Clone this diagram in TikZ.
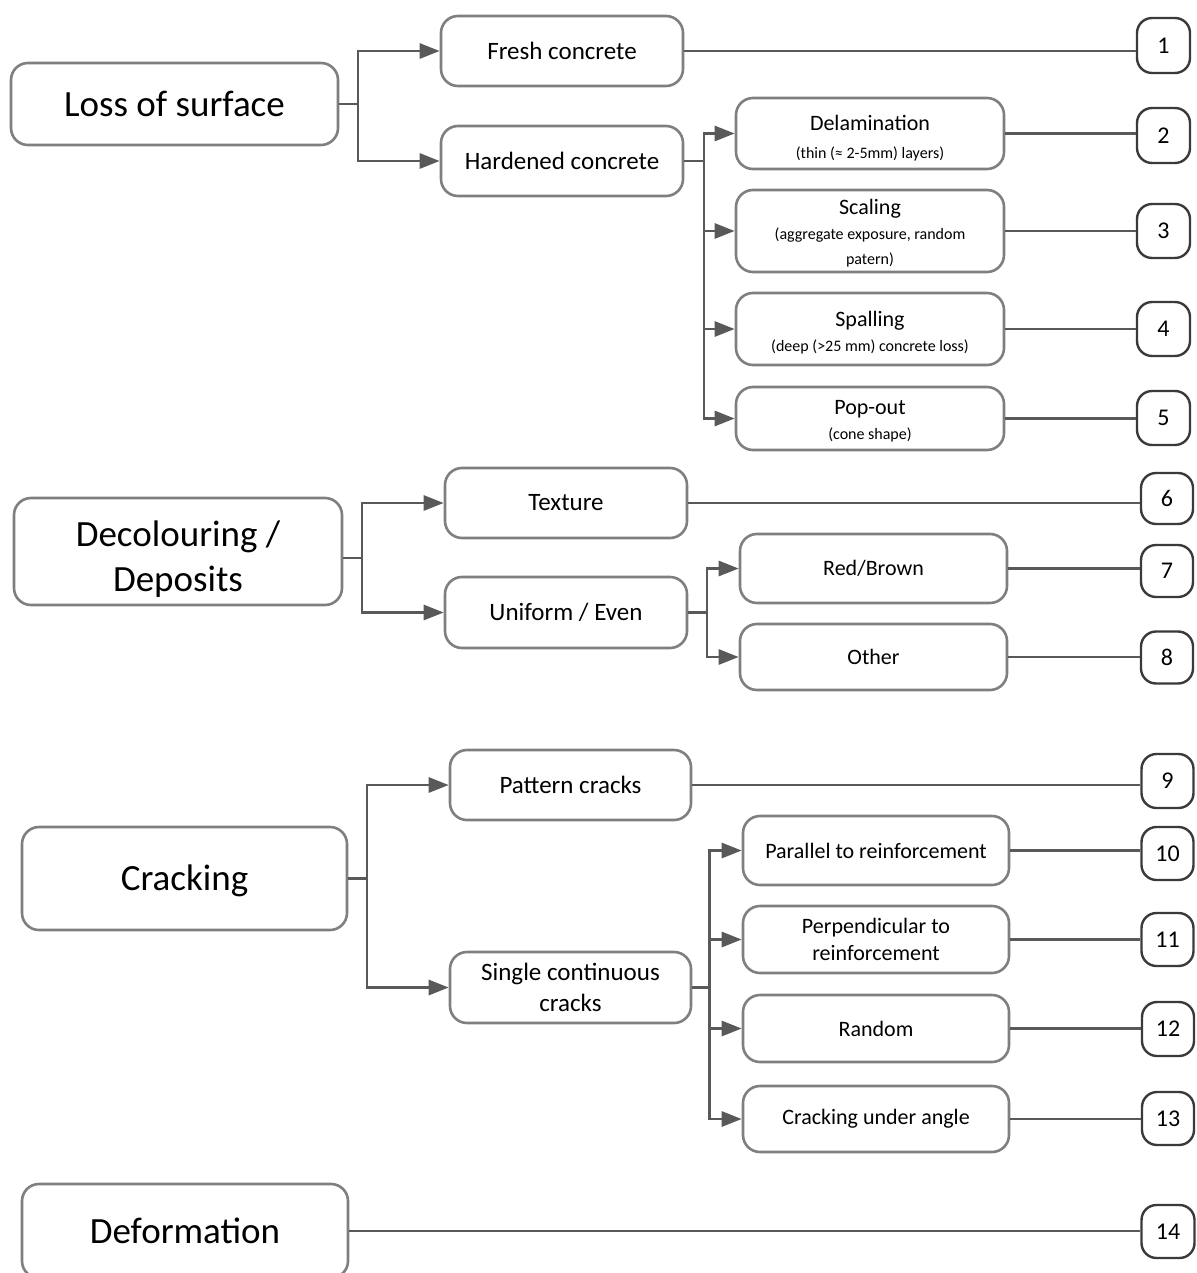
\documentclass[tikz,border=0pt]{standalone}
\usepackage{fontspec}
\setmainfont{Carlito}
\usetikzlibrary{arrows.meta}

\definecolor{boxline}{HTML}{7F7F7F}
\definecolor{connline}{HTML}{595959}
\definecolor{numline}{HTML}{3A3A3A}

\tikzset{
  box/.style={draw=boxline, line width=2.6pt, fill=white, rectangle,
    rounded corners=17pt, inner sep=0pt, align=center},
  mainbox/.style={box, font=\fontsize{37}{45}\selectfont},
  midbox/.style={box, font=\fontsize{25}{31}\selectfont},
  subbox/.style={box, font=\fontsize{22}{27}\selectfont},
  txt/.style={inner sep=0pt, align=center},
  numbox/.style={draw=numline, line width=2.4pt, fill=white, rectangle,
    rounded corners=15pt, inner sep=0pt, font=\fontsize{24}{28}\selectfont},
  conn/.style={draw=connline, line width=2.8pt},
  arr/.style={conn, -{Triangle[length=20pt, width=15pt]}},
  dims/.style 2 args={minimum width=#1pt, minimum height=#2pt},
}

\newcommand{\tsub}[3]{{\fontsize{22}{#3}\selectfont #1}\\{\fontsize{16}{#3}\selectfont #2}}

\begin{document}
\begin{tikzpicture}[x=1pt, y=-1pt]
\useasboundingbox (0,0) rectangle (1196,1273);
\clip (0,0) rectangle (1196,1273);

% ---------- Loss of surface ----------
\node[mainbox, dims={327}{82}] (los) at (174.5,104) {Loss of surface};
\node[midbox, dims={242}{70}] (fresh) at (562,51) {Fresh concrete};
\node[midbox, dims={242}{70}] (hard) at (562,161) {Hardened concrete};
\node[box, dims={268}{71}] (delam) at (870,133.5) {};
\node[txt, font=\fontsize{16}{28}\selectfont] (delam-t) at ([yshift=-4.5pt]delam.center)
  {\tsub{Delamination}{(thin (≈ 2-5mm) layers)}{28}};
\node[box, dims={268}{82}] (scal) at (870,231) {};
\node[txt, font=\fontsize{16}{25}\selectfont] (scal-t) at ([yshift=-2.5pt]scal.center)
  {{\fontsize{22}{25}\selectfont Scaling}\\(aggregate exposure, random\\patern)};
\node[box, dims={268}{72}] (spal) at (870,329) {};
\node[txt, font=\fontsize{16}{25}\selectfont] (spal-t) at ([yshift=-3.5pt]spal.center)
  {\tsub{Spalling}{(deep (>25 mm) concrete loss)}{25}};
\node[box, dims={268}{63}] (pop) at (870,418.5) {};
\node[txt, font=\fontsize{16}{25}\selectfont] (pop-t) at ([yshift=-3pt]pop.center)
  {\tsub{Pop-out}{(cone shape)}{25}};

\node[numbox, dims={53}{55}] (n1) at (1163.5,45.5) {1};
\node[numbox, dims={53}{55}] (n2) at (1163.5,135.5) {2};
\node[numbox, dims={53}{54}] (n3) at (1163.5,231) {3};
\node[numbox, dims={53}{54}] (n4) at (1163.5,329) {4};
\node[numbox, dims={53}{54}] (n5) at (1163.5,418) {5};

\coordinate (t1) at (358,0);
\coordinate (s1) at (704,0);
\draw[conn] (los.east) -- (los.east -| t1);
\draw[arr] (los.east -| t1) |- (fresh.west);
\draw[arr] (los.east -| t1) |- (hard.west);
\draw[conn] (hard.east) -- (hard.east -| s1);
\draw[arr] (hard.east -| s1) |- (delam.west);
\draw[arr] (hard.east -| s1) |- (scal.west);
\draw[arr] (hard.east -| s1) |- (spal.west);
\draw[arr] (hard.east -| s1) |- (pop.west);
\draw[conn] (fresh.east) -- (fresh.east -| n1.west);
\draw[conn] (delam.east) -- (delam.east -| n2.west);
\draw[conn] (scal.east) -- (scal.east -| n3.west);
\draw[conn] (spal.east) -- (spal.east -| n4.west);
\draw[conn] (pop.east) -- (pop.east -| n5.west);

% ---------- Decolouring / Deposits ----------
\node[box, dims={328}{107}] (dec) at (178,551.5) {};
\node[txt, font=\fontsize{37}{45}\selectfont] (dec-t) at ([yshift=-8pt]dec.center)
  {Decolouring /\\Deposits};
\node[midbox, dims={242}{70}] (tex) at (566,503) {Texture};
\node[midbox, dims={242}{71}] (uni) at (566,612.5) {Uniform / Even};
\node[subbox, dims={267}{69}] (red) at (873.5,568.5) {Red/Brown};
\node[subbox, dims={267}{66}] (oth) at (873.5,657) {Other};

\node[numbox, dims={52}{51}] (n6) at (1167,498.5) {6};
\node[numbox, dims={52}{52}] (n7) at (1167,571) {7};
\node[numbox, dims={52}{52}] (n8) at (1167,657.5) {8};

\coordinate (t2) at (362,0);
\coordinate (s2) at (707,0);
\draw[conn] ([yshift=-6.5pt]dec.east) -- ([yshift=-6.5pt]dec.east -| t2);
\draw[arr] ([yshift=-6.5pt]dec.east -| t2) |- (tex.west);
\draw[arr] ([yshift=-6.5pt]dec.east -| t2) |- (uni.west);
\draw[conn] (uni.east) -- (uni.east -| s2);
\draw[arr] (uni.east -| s2) |- (red.west);
\draw[arr] (uni.east -| s2) |- (oth.west);
\draw[conn] (tex.east) -- (tex.east -| n6.west);
\draw[conn] (red.east) -- (red.east -| n7.west);
\draw[conn] (oth.east) -- (oth.east -| n8.west);

% ---------- Cracking ----------
\node[box, dims={325}{103}] (crk) at (184.5,878.5) {};
\node[txt, font=\fontsize{37}{45}\selectfont] (crk-t) at ([yshift=-2.5pt]crk.center) {Cracking};
\node[midbox, dims={241}{70}] (pat) at (570.5,785) {Pattern cracks};
\node[midbox, dims={241}{71}] (sing) at (570.5,987.5) {Single continuous\\cracks};
\node[subbox, dims={266}{69}] (par) at (876,850.5) {Parallel to reinforcement};
\node[subbox, dims={266}{67}] (perp) at (876,939.5) {Perpendicular to\\reinforcement};
\node[subbox, dims={266}{67}] (rnd) at (876,1028.5) {Random};
\node[subbox, dims={266}{66}] (ang) at (876,1119) {Cracking under angle};

\node[numbox, dims={52}{54}] (n9) at (1167.5,781) {9};
\node[numbox, dims={52}{53}] (n10) at (1167.5,853.5) {10};
\node[numbox, dims={52}{53}] (n11) at (1167.5,939.5) {11};
\node[numbox, dims={52}{54}] (n12) at (1168,1029) {12};
\node[numbox, dims={52}{53}] (n13) at (1168,1118.5) {13};

\coordinate (t3) at (367,0);
\coordinate (s3) at (709.5,0);
\draw[conn] (crk.east) -- (crk.east -| t3);
\draw[arr] (crk.east -| t3) |- (pat.west);
\draw[arr] (crk.east -| t3) |- (sing.west);
\draw[conn] (sing.east) -- (sing.east -| s3);
\draw[arr] (sing.east -| s3) |- (par.west);
\draw[arr] (sing.east -| s3) |- (perp.west);
\draw[arr] (sing.east -| s3) |- (rnd.west);
\draw[arr] (sing.east -| s3) |- (ang.west);
\draw[conn] (pat.east) -- (pat.east -| n9.west);
\draw[conn] (par.east) -- (par.east -| n10.west);
\draw[conn] (perp.east) -- (perp.east -| n11.west);
\draw[conn] (rnd.east) -- (rnd.east -| n12.west);
\draw[conn] (ang.east) -- (ang.east -| n13.west);

% ---------- Deformation ----------
\node[mainbox, dims={326}{94}] (def) at (185,1231) {Deformation};
\node[numbox, dims={53}{53}] (n14) at (1168,1231.5) {14};
\draw[conn] (def.east) -- (def.east -| n14.west);

\end{tikzpicture}
\end{document}
